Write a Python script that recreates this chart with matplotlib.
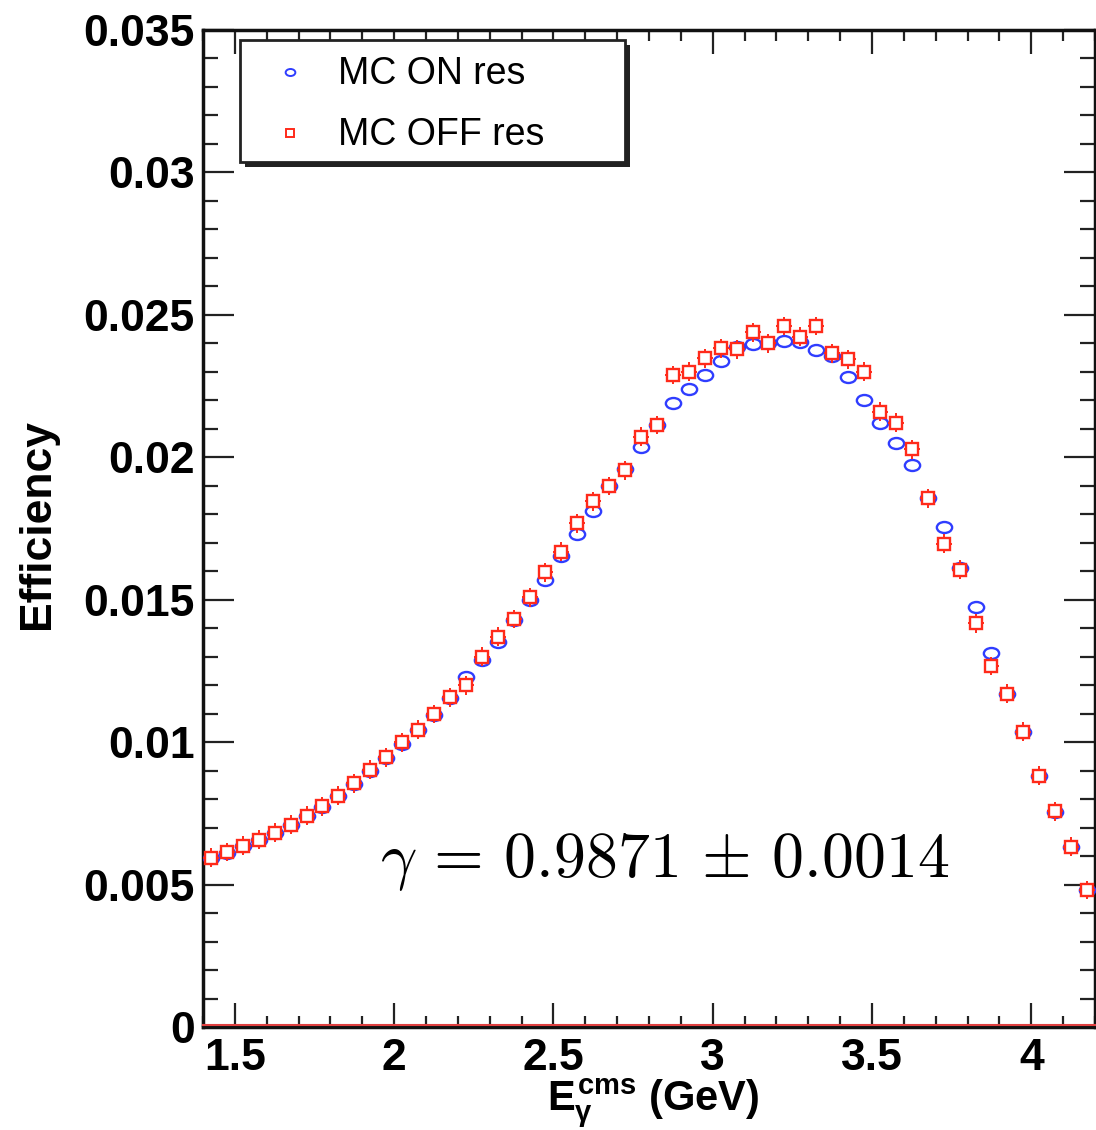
import matplotlib
matplotlib.use('Agg')
import matplotlib.pyplot as plt
from matplotlib.path import Path
from matplotlib.transforms import Affine2D
from matplotlib.patches import Rectangle
from matplotlib.ticker import MultipleLocator

# bin centres (GeV)
e_gamma = [1.425, 1.475, 1.525, 1.575, 1.625, 1.675, 1.725, 1.775, 1.825, 1.875,
           1.925, 1.975, 2.025, 2.075, 2.125, 2.175, 2.225, 2.275, 2.325, 2.375,
           2.425, 2.475, 2.525, 2.575, 2.625, 2.675, 2.725, 2.775, 2.825, 2.875,
           2.925, 2.975, 3.025, 3.075, 3.125, 3.175, 3.225, 3.275, 3.325, 3.375,
           3.425, 3.475, 3.525, 3.575, 3.625, 3.675, 3.725, 3.775, 3.825, 3.875,
           3.925, 3.975, 4.025, 4.075, 4.125, 4.175]

# MC ON resonance efficiency
eff_on = [0.00592, 0.00612, 0.00634, 0.00657, 0.00680, 0.00708, 0.00740, 0.00773, 0.00810, 0.00853,
          0.00900, 0.00945, 0.00994, 0.01042, 0.01097, 0.01156, 0.01228, 0.01288, 0.01352, 0.01430,
          0.01498, 0.01568, 0.01655, 0.01730, 0.01812, 0.01898, 0.01960, 0.02035, 0.02112, 0.02190,
          0.02238, 0.02288, 0.02338, 0.02387, 0.02396, 0.02402, 0.02408, 0.02406, 0.02375, 0.02355,
          0.02282, 0.02200, 0.02120, 0.02050, 0.01972, 0.01856, 0.01755, 0.01610, 0.01475, 0.01313,
          0.01170, 0.01036, 0.00880, 0.00755, 0.00632, 0.00480]

# MC OFF resonance efficiency
eff_off = [0.00595, 0.00614, 0.00636, 0.00658, 0.00682, 0.00710, 0.00742, 0.00775, 0.00812, 0.00856,
           0.00903, 0.00947, 0.01000, 0.01044, 0.01099, 0.01158, 0.01200, 0.01300, 0.01370, 0.01432,
           0.01508, 0.01596, 0.01669, 0.01768, 0.01845, 0.01899, 0.01955, 0.02072, 0.02113, 0.02289,
           0.02300, 0.02347, 0.02383, 0.02379, 0.02439, 0.02400, 0.02461, 0.02423, 0.02461, 0.02365,
           0.02344, 0.02300, 0.02160, 0.02121, 0.02028, 0.01856, 0.01696, 0.01605, 0.01417, 0.01267,
           0.01170, 0.01036, 0.00882, 0.00757, 0.00633, 0.00481]

err_on = 0.00018
err_off = 0.00033
half_bin = 0.025

series_labels = ['MC ON res', 'MC OFF res']
fit_text = r'$\gamma \,=\, 0.9871 \,\pm\, 0.0014$'

plt.rcParams['font.family'] = ['Liberation Sans', 'DejaVu Sans']
plt.rcParams['mathtext.fontset'] = 'custom'
plt.rcParams['mathtext.rm'] = 'Liberation Sans:bold'
plt.rcParams['mathtext.it'] = 'Liberation Sans:bold'
plt.rcParams['mathtext.bf'] = 'Liberation Sans:bold'

blue = '#2f3dff'
red = '#ff2a1a'

# slightly flattened circle like the original rendering
ellipse = Path.unit_circle().transformed(Affine2D().scale(1.0, 0.72))

fig = plt.figure(figsize=(10.96, 11.30), dpi=100)
ax = fig.add_axes([203 / 1096, 1 - 1027 / 1130, 892 / 1096, 997 / 1130])

ax.errorbar(e_gamma, eff_on, yerr=err_on, xerr=half_bin, fmt='none',
            ecolor=blue, elinewidth=1.4, zorder=3)
ax.plot(e_gamma, eff_on, linestyle='none', marker=ellipse, markersize=11,
        markerfacecolor='white', markeredgecolor=blue, markeredgewidth=1.7, zorder=4)
ax.errorbar(e_gamma, eff_off, yerr=err_off, xerr=half_bin, fmt='none',
            ecolor=red, elinewidth=1.4, zorder=5)
ax.plot(e_gamma, eff_off, linestyle='none', marker='s', markersize=8.5,
        markerfacecolor='white', markeredgecolor=red, markeredgewidth=1.7, zorder=6)

ax.set_xlim(1.4, 4.2)
ax.set_ylim(0, 0.035)

ax.xaxis.set_minor_locator(MultipleLocator(0.1))
ax.yaxis.set_minor_locator(MultipleLocator(0.001))
ax.set_xticks([1.5, 2, 2.5, 3, 3.5, 4])
ax.set_xticklabels(['1.5', '2', '2.5', '3', '3.5', '4'])
ax.set_yticks([0, 0.005, 0.01, 0.015, 0.02, 0.025, 0.03, 0.035])
ax.set_yticklabels(['0', '0.005', '0.01', '0.015', '0.02', '0.025', '0.03', '0.035'])

ax.tick_params(axis='both', which='both', direction='in', top=True, right=True,
               colors='#222222', labelcolor='black', width=1.6)
ax.tick_params(axis='y', which='major', length=22, labelsize=32, pad=6)
ax.tick_params(axis='y', which='minor', length=11)
ax.tick_params(axis='x', which='major', length=17, labelsize=32, pad=8)
ax.tick_params(axis='x', which='minor', length=8)
for lab in ax.get_xticklabels() + ax.get_yticklabels():
    lab.set_fontweight('bold')

for side in ['left', 'bottom', 'top', 'right']:
    ax.spines[side].set_linewidth(2.5)
    ax.spines[side].set_color('#111111')
ax.axhline(0.00008, color='#e04040', linewidth=1.5, zorder=7, clip_on=False)

ax.set_ylabel('Efficiency', fontsize=32, fontweight='bold')
ax.yaxis.set_label_coords(-0.163, 0.505)
ax.set_xlabel(r'$E_{\gamma}^{cms}$ (GeV)', fontsize=30, fontweight='bold')
ax.xaxis.set_label_coords(0.505, -0.05)

ax.text(1.955, 0.0058, fit_text, fontsize=46, math_fontfamily='cm',
        ha='left', va='center', color='black', zorder=8)

# legend box drawn in ROOT style with a drop shadow
lx0, ly0, lw, lh = 0.0415, 0.8676, 0.4315, 0.1224
ax.add_patch(Rectangle((lx0 + 0.006, ly0 - 0.005), lw, lh, transform=ax.transAxes,
                       facecolor='#222222', edgecolor='none', zorder=9))
ax.add_patch(Rectangle((lx0, ly0), lw, lh, transform=ax.transAxes,
                       facecolor='white', edgecolor='#222222', linewidth=2, zorder=10))
ax.plot([0.0975], [0.958], transform=ax.transAxes, linestyle='none', marker=ellipse,
        markersize=7, markerfacecolor='white', markeredgecolor=blue, markeredgewidth=1.4,
        zorder=11)
ax.plot([0.0975], [0.897], transform=ax.transAxes, linestyle='none', marker='s',
        markersize=6, markerfacecolor='white', markeredgecolor=red, markeredgewidth=1.4,
        zorder=11)
ax.text(0.151, 0.956, series_labels[0], transform=ax.transAxes, fontsize=27,
        ha='left', va='center', zorder=11)
ax.text(0.151, 0.895, series_labels[1], transform=ax.transAxes, fontsize=27,
        ha='left', va='center', zorder=11)

fig.savefig('out.png', dpi=100)
